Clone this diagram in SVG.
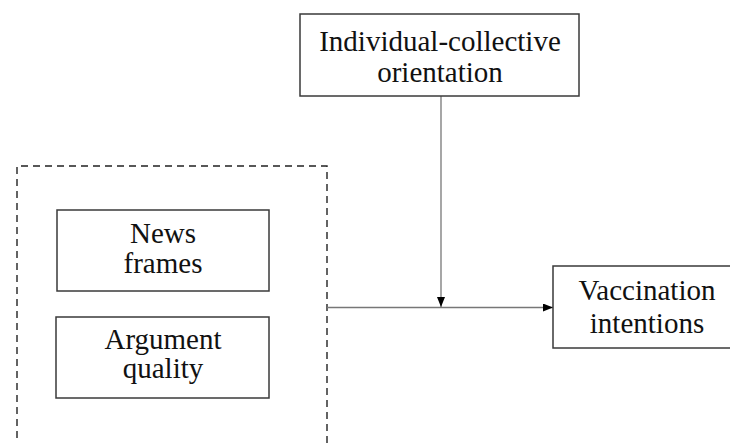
<svg xmlns="http://www.w3.org/2000/svg" width="730" height="443" viewBox="0 0 730 443">
<style>
.box{fill:#fff;stroke:#3a3a3a;stroke-width:1.5}
.dash{fill:none;stroke:#222;stroke-width:1.4;stroke-dasharray:7 5}
.lbl{font-family:"Liberation Serif","Times New Roman",serif;font-size:29px;fill:#111;text-anchor:middle}
.conn{stroke:#777;stroke-width:1.3;fill:none}
</style>
<defs>
<marker id="ah" viewBox="0 0 10 8" refX="10" refY="4" markerWidth="10" markerHeight="8" markerUnits="userSpaceOnUse" orient="auto">
<path d="M0,0 L10,4 L0,8 Z" fill="#000"/>
</marker>
</defs>
<rect width="730" height="443" fill="#fff"/>
<g id="group-box">
<path class="dash" d="M17,450 L17,166 L327,166 L327,450"/>
</g>
<g id="connectors">
<line class="conn" x1="327" y1="307.5" x2="553" y2="307.5" marker-end="url(#ah)"/>
<line class="conn" x1="441" y1="96" x2="441" y2="307" marker-end="url(#ah)"/>
</g>
<g id="node-orientation">
<rect class="box" x="300" y="14" width="279" height="82"/>
<text class="lbl" x="440" y="51">Individual-collective</text>
<text class="lbl" x="440" y="82">orientation</text>
</g>
<g id="node-news">
<rect class="box" x="57" y="210" width="212" height="81"/>
<text class="lbl" x="163" y="243">News</text>
<text class="lbl" x="163" y="273">frames</text>
</g>
<g id="node-argument">
<rect class="box" x="56" y="317" width="213" height="81"/>
<text class="lbl" x="163" y="349">Argument</text>
<text class="lbl" x="163" y="378">quality</text>
</g>
<g id="node-vaccination">
<rect class="box" x="553" y="266" width="190" height="82"/>
<text class="lbl" x="647" y="300">Vaccination</text>
<text class="lbl" x="647" y="333">intentions</text>
</g>
</svg>
